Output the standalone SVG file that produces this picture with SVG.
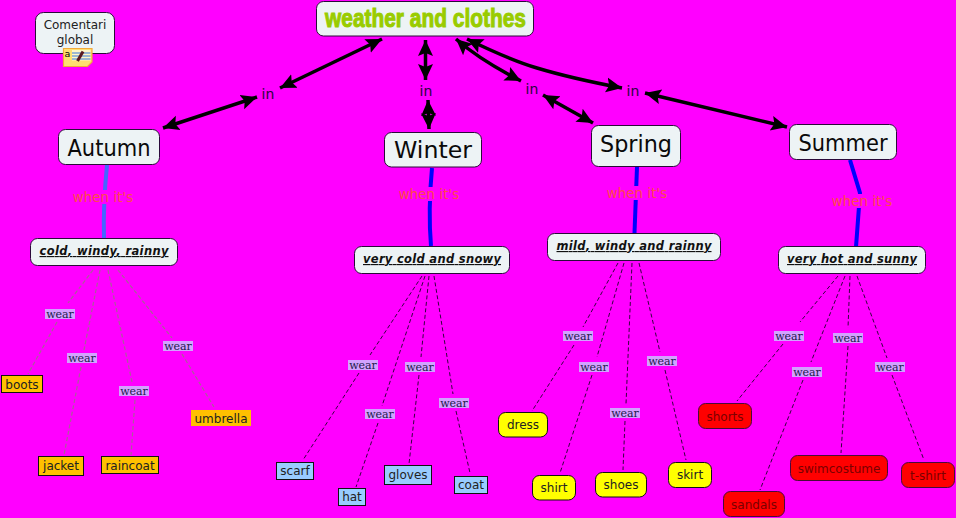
<svg xmlns="http://www.w3.org/2000/svg" width="956" height="518" viewBox="0 0 956 518">
<style>
text{font-family:"DejaVu Sans",sans-serif;text-anchor:middle}
.box{fill:#edf3f5;stroke:#2a0a3a;stroke-width:1}
.season{font-size:23px;fill:#0a0a0a}
.cond{font-size:11.500px;font-weight:bold;font-style:italic;text-decoration:underline;fill:#111}
.leaf{font-size:12px;fill:#222}
.rl{font-size:12px;fill:#7a0000}
.orange{fill:#ffc000;stroke:#111;stroke-width:1}
.sky{fill:#99ccff;stroke:#111;stroke-width:1}
.yellow{fill:#ffff00;stroke:#111;stroke-width:1}
.red{fill:#ff0000;stroke:#4a0a3a;stroke-width:1}
.arrow{fill:none;stroke:#000;stroke-width:3.500;marker-start:url(#head);marker-end:url(#head)}
.blue{fill:none;stroke:#0000ff;stroke-width:4}
.dash{fill:none;stroke:#33043f;stroke-width:1;stroke-dasharray:4 2.500}
.dashA{fill:none;stroke:#a85f98;stroke-width:1.200;stroke-dasharray:4 2.500}
.in{font-size:14px;fill:#2a0440}
.when{font-size:13.500px;fill:#ff4a4a}
.wbg{fill:#d3a2ff}
.wt{font-family:"DejaVu Serif",serif;font-size:11px;fill:#1a1a4a}
</style>
<defs>
<marker id="head" markerUnits="userSpaceOnUse" markerWidth="18" markerHeight="18" viewBox="0 0 18 18" refX="16" refY="9" orient="auto-start-reverse"><path d="M0 1.500L16 9L0 16.500L3 9Z" fill="#000"/></marker>
</defs>
<rect width="956" height="518" fill="#ff00ff"/>
<g id="connectors">
<path class="arrow" d="M257 97L163 128"/>
<path class="arrow" d="M280 88L382 39"/>
<path class="arrow" d="M425.500 40L425.500 80"/>
<path class="arrow" d="M428 100L429 129"/>
<path class="arrow" d="M456 39Q480 60 521 81"/>
<path class="arrow" d="M543 95L593 123"/>
<path class="arrow" d="M467 39Q510 60 537 68Q570 78 622 88"/>
<path class="arrow" d="M645 93L787 127"/>
<path class="blue" style="stroke:#4466ff" d="M107 165Q103 205 104 238"/>
<path class="blue" d="M432 168Q428 210 431 246"/>
<path class="blue" d="M637 167L634.500 233"/>
<path class="blue" d="M850 160L860 193L856 247"/>
<path class="dashA" d="M93 270L68 303M57 322L28 374"/>
<path class="dashA" d="M100 270L84 350M81 367L64 455"/>
<path class="dashA" d="M108 270L132 382M135 400L131 455"/>
<path class="dashA" d="M118 270L172 338M182 354L214 407"/>
<path class="dash" d="M422 276L370 355M359 373L303 460"/>
<path class="dash" d="M425 276L382 406M378 423L356 487"/>
<path class="dash" d="M429 276L421 357M419 375L409 464"/>
<path class="dash" d="M434 276L453 394M456 411L470 473"/>
<path class="dash" d="M618 263L583 327M574 345L532 411"/>
<path class="dash" d="M624 263L597 357M592 375L560 473"/>
<path class="dash" d="M632 263L626 404M625 421L623 470"/>
<path class="dash" d="M639 263L660 352M665 370L686 460"/>
<path class="dash" d="M838 276L800 322M783 344L737 401"/>
<path class="dash" d="M845 276L811 362M803 380L760 490"/>
<path class="dash" d="M850 276L848 328M848 346L841 453"/>
<path class="dash" d="M857 276L887 358M892 375L924 460"/>
</g>
<g id="labels-in">
<text class="in" x="268" y="99">in</text>
<text class="in" x="426" y="96">in</text>
<text class="in" x="532" y="94">in</text>
<text class="in" x="633" y="96">in</text>
</g>
<g id="labels-when">
<g><rect x="72" y="190" width="62" height="14" fill="#ff00ff"/><text class="when" x="103" y="202">when it's</text></g>
<g><rect x="398" y="187" width="62" height="14" fill="#ff00ff"/><text class="when" x="429" y="199">when it's</text></g>
<g><rect x="606" y="186" width="62" height="14" fill="#ff00ff"/><text class="when" x="637" y="198">when it's</text></g>
<g><rect x="831" y="194" width="62" height="14" fill="#ff00ff"/><text class="when" x="862" y="206">when it's</text></g>
</g>
<g id="labels-wear">
<g><rect class="wbg" x="45" y="309" width="30" height="10"/><text class="wt" x="60" y="318">wear</text></g>
<g><rect class="wbg" x="67" y="353" width="30" height="10"/><text class="wt" x="82" y="362">wear</text></g>
<g><rect class="wbg" x="119" y="386" width="30" height="10"/><text class="wt" x="134" y="395">wear</text></g>
<g><rect class="wbg" x="163" y="341" width="30" height="10"/><text class="wt" x="178" y="350">wear</text></g>
<g><rect class="wbg" x="348" y="360" width="30" height="10"/><text class="wt" x="363" y="369">wear</text></g>
<g><rect class="wbg" x="365" y="409" width="30" height="10"/><text class="wt" x="380" y="418">wear</text></g>
<g><rect class="wbg" x="405" y="362" width="30" height="10"/><text class="wt" x="420" y="371">wear</text></g>
<g><rect class="wbg" x="439" y="398" width="30" height="10"/><text class="wt" x="454" y="407">wear</text></g>
<g><rect class="wbg" x="563" y="331" width="30" height="10"/><text class="wt" x="578" y="340">wear</text></g>
<g><rect class="wbg" x="579" y="362" width="30" height="10"/><text class="wt" x="594" y="371">wear</text></g>
<g><rect class="wbg" x="610" y="408" width="30" height="10"/><text class="wt" x="625" y="417">wear</text></g>
<g><rect class="wbg" x="647" y="356" width="30" height="10"/><text class="wt" x="662" y="365">wear</text></g>
<g><rect class="wbg" x="774" y="331" width="30" height="10"/><text class="wt" x="789" y="340">wear</text></g>
<g><rect class="wbg" x="792" y="367" width="30" height="10"/><text class="wt" x="807" y="376">wear</text></g>
<g><rect class="wbg" x="833" y="333" width="30" height="10"/><text class="wt" x="848" y="342">wear</text></g>
<g><rect class="wbg" x="875" y="362" width="30" height="10"/><text class="wt" x="890" y="371">wear</text></g>
</g>
<g id="comentari">
<rect class="box" x="35.500" y="12.500" width="79" height="41" rx="8"/>
<text x="75" y="29" font-size="12" fill="#222">Comentari</text>
<text x="75" y="44" font-size="12" fill="#222">global</text>
<path d="M63.500 48.500H92V62L87.500 66.500H63.500Z" fill="#ffdf70" stroke="#f2a93b" stroke-width="1.200"/>
<path d="M72 50H90.500V60.500H72Z" fill="#fff6c8"/>
<path d="M72 53H90.500M72 56H90.500M72 59H90.500" stroke="#3a78d8" stroke-width="1"/>
<path d="M77.500 61L83 51.500" stroke="#5a1a20" stroke-width="3"/>
<text x="67.500" y="57" font-size="9.500" fill="#000">a</text>
</g>
<g id="root">
<rect class="box" x="316.500" y="1.500" width="217" height="34.500" rx="7"/>
<text x="425.500" y="27" font-size="25" font-weight="bold" fill="#99cc00" stroke="#99cc00" stroke-width="1" style="font-family:'Liberation Sans',sans-serif" textLength="201" lengthAdjust="spacingAndGlyphs">weather and clothes</text>
</g>
<g id="autumn"><rect class="box" x="58.500" y="129.500" width="101" height="35" rx="7"/><text class="season" x="109" y="155.500" textLength="83" lengthAdjust="spacingAndGlyphs">Autumn</text></g>
<g id="winter"><rect class="box" x="384.500" y="132.500" width="97" height="34.500" rx="7"/><text class="season" x="433" y="158" textLength="78" lengthAdjust="spacingAndGlyphs">Winter</text></g>
<g id="spring"><rect class="box" x="591.500" y="125.500" width="89" height="41" rx="7"/><text class="season" x="636" y="152" textLength="72" lengthAdjust="spacingAndGlyphs">Spring</text></g>
<g id="summer"><rect class="box" x="789.500" y="124.500" width="107" height="35" rx="7"/><text class="season" x="843" y="150.500" textLength="89" lengthAdjust="spacingAndGlyphs">Summer</text></g>
<g id="cold"><rect class="box" x="30.500" y="238.500" width="147" height="27" rx="7"/><text class="cond" x="104" y="255" textLength="129">cold, windy, rainny</text></g>
<g id="verycold"><rect class="box" x="354.500" y="246.500" width="155" height="27" rx="7"/><text class="cond" x="432" y="263" textLength="138">very cold and snowy</text></g>
<g id="mild"><rect class="box" x="547.500" y="233.500" width="173" height="27" rx="7"/><text class="cond" x="634" y="250" textLength="155">mild, windy and rainny</text></g>
<g id="veryhot"><rect class="box" x="778.500" y="246.500" width="147" height="27" rx="7"/><text class="cond" x="852" y="263" textLength="130">very hot and sunny</text></g>
<g id="boots"><rect class="orange" x="1.500" y="375.500" width="41" height="17"/><text class="leaf" x="22" y="388.500">boots</text></g>
<g id="jacket"><rect class="orange" x="38.500" y="456.500" width="45" height="19"/><text class="leaf" x="61" y="469.500">jacket</text></g>
<g id="raincoat"><rect class="orange" x="101.500" y="456.500" width="57" height="17"/><text class="leaf" x="130" y="469.500">raincoat</text></g>
<g id="umbrella"><rect x="191" y="410" width="60" height="16" fill="#ffc000"/><text class="leaf" x="221" y="422.500">umbrella</text></g>
<g id="scarf"><rect class="sky" x="276.500" y="462.500" width="37" height="17"/><text class="leaf" x="295" y="475">scarf</text></g>
<g id="hat"><rect class="sky" x="338.500" y="488.500" width="27" height="17"/><text class="leaf" x="352" y="501">hat</text></g>
<g id="gloves"><rect class="sky" x="384.500" y="465.500" width="47" height="19"/><text class="leaf" x="408" y="479">gloves</text></g>
<g id="coat"><rect class="sky" x="454.500" y="476.500" width="33" height="17"/><text class="leaf" x="471" y="489">coat</text></g>
<g id="dress"><rect class="yellow" x="498.500" y="412.500" width="49" height="24.500" rx="7"/><text class="leaf" x="523" y="429">dress</text></g>
<g id="shirt"><rect class="yellow" x="532.500" y="475.500" width="43" height="24.500" rx="7"/><text class="leaf" x="554" y="492">shirt</text></g>
<g id="shoes"><rect class="yellow" x="595.500" y="472.500" width="51" height="24.500" rx="7"/><text class="leaf" x="621" y="489">shoes</text></g>
<g id="skirt"><rect class="yellow" x="668.500" y="462.500" width="43" height="25" rx="7"/><text class="leaf" x="690" y="479">skirt</text></g>
<g id="shorts"><rect class="red" x="698.500" y="403.500" width="53" height="25" rx="7"/><text class="rl" x="725" y="420.500">shorts</text></g>
<g id="sandals"><rect class="red" x="723.500" y="491.500" width="61" height="25" rx="7"/><text class="rl" x="754" y="508.500">sandals</text></g>
<g id="swimcostume"><rect class="red" x="790.500" y="455.500" width="97" height="25" rx="7"/><text class="rl" x="839" y="473">swimcostume</text></g>
<g id="tshirt"><rect class="red" x="901.500" y="462.500" width="53" height="25" rx="7"/><text class="rl" x="928" y="479.500">t-shirt</text></g>
</svg>
